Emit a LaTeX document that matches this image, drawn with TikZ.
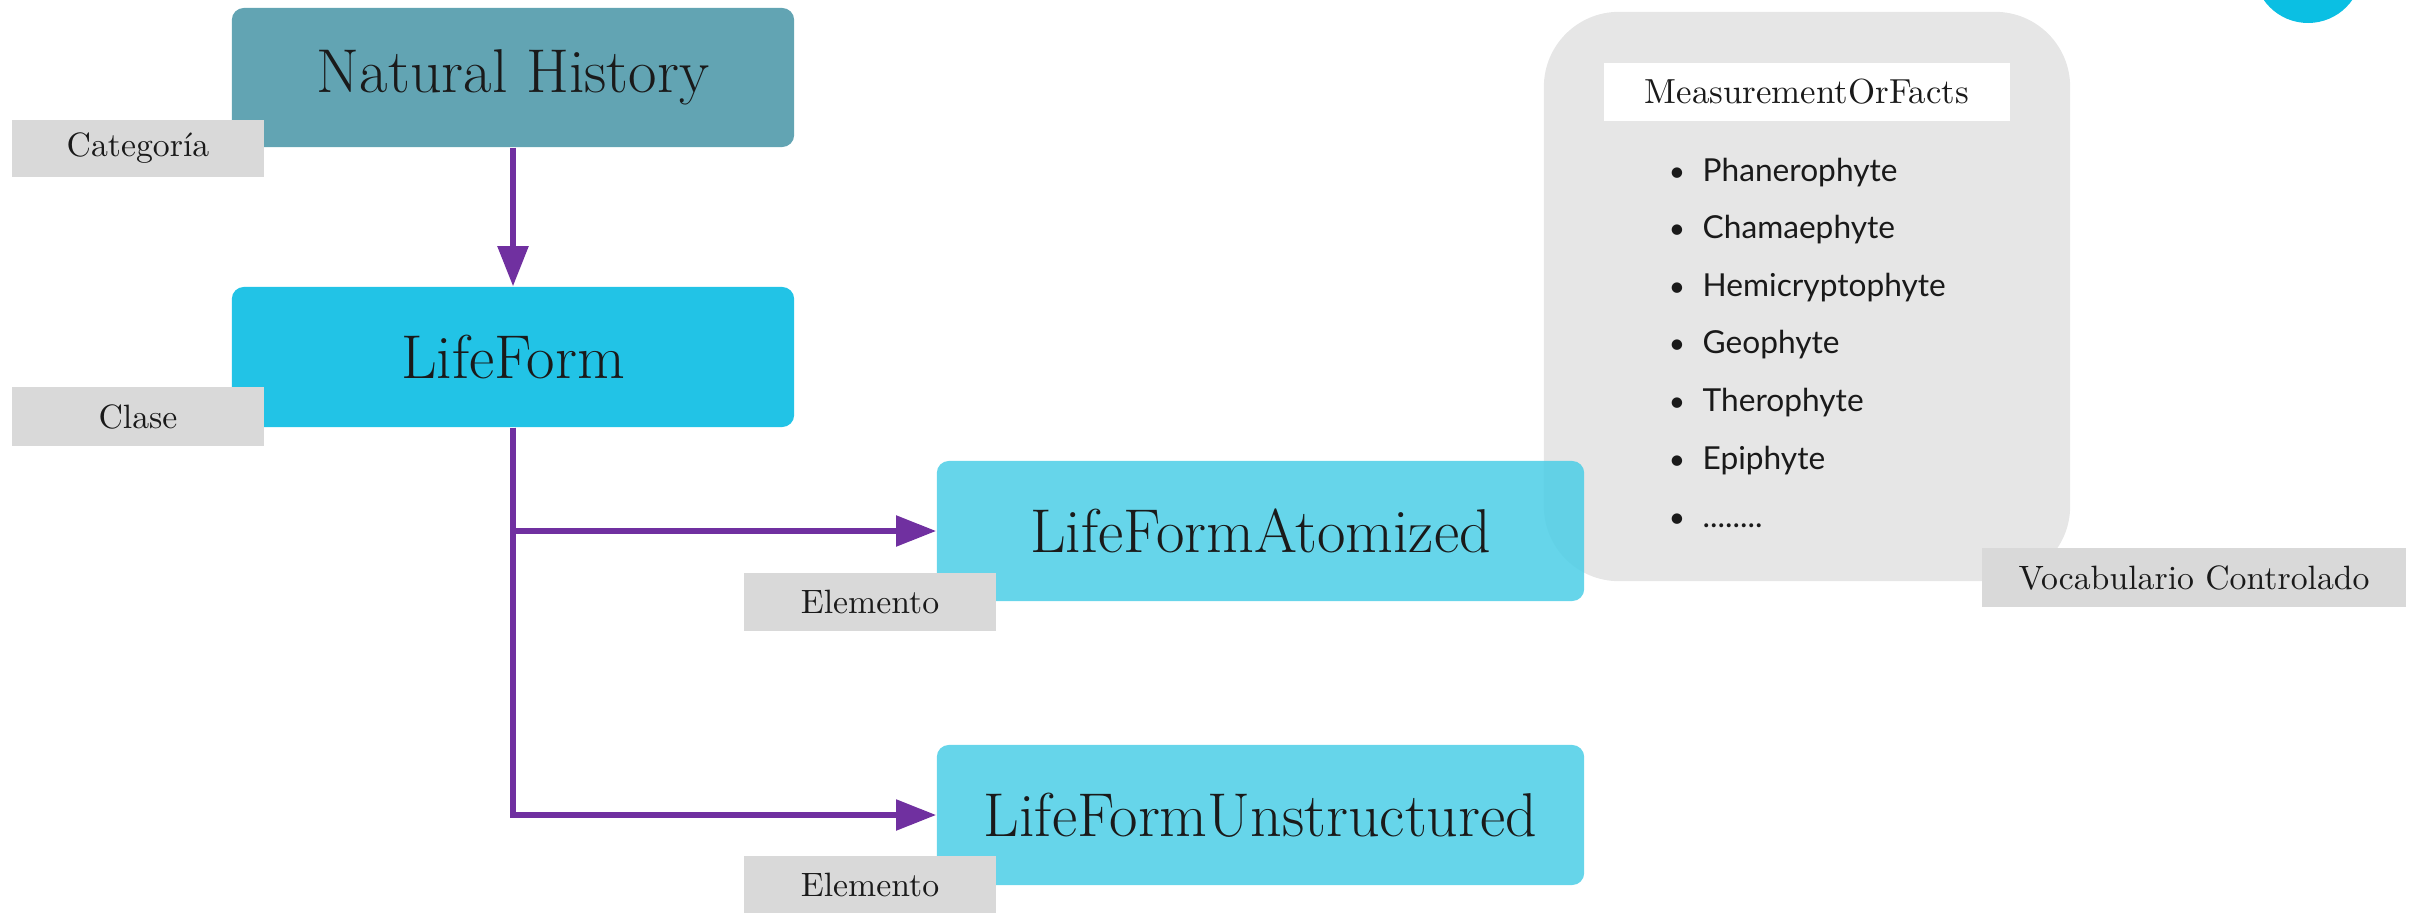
\documentclass[tikz,border=0pt]{standalone}
\usepackage{fontspec}
\newfontfamily\listfont{Lato}
\usetikzlibrary{arrows.meta}
\definecolor{nhteal}{HTML}{62A4B3}
\definecolor{lfcyan}{HTML}{22C3E6}
\definecolor{elcyan}{RGB}{75,206,230}
\definecolor{lblgray}{HTML}{D9D9D9}
\definecolor{panelgray}{HTML}{E6E6E6}
\definecolor{arrowpurple}{HTML}{7030A0}
\definecolor{dotblue}{HTML}{0BBFE3}
\definecolor{txt}{HTML}{1A1A1A}
\tikzset{
  bigbox/.style={rounded corners=0.12cm, inner sep=0pt, text=txt, font=\fontsize{17.6}{21}\selectfont},
  tagbox/.style={fill=lblgray, inner sep=0pt, text=txt, font=\fontsize{9.6}{11}\selectfont},
  conn/.style={draw=arrowpurple, line width=1.5pt, -{Triangle[length=0.4cm,width=0.3cm]}},
  item/.style={anchor=base west, inner sep=0pt, text=txt, font=\listfont\fontsize{9}{11}\selectfont},
  bul/.style={anchor=base, inner sep=0pt, text=txt, font=\listfont\fontsize{8}{10}\selectfont},
}
\begin{document}
\begin{tikzpicture}[x=0.01cm,y=-0.01cm]
\useasboundingbox (0,0) rectangle (2409,912);
\clip (0,0) rectangle (2409,912);
% blue dot top right
\fill[dotblue] (2308,-31) circle[radius=54];
% gray panel
\node[fill=panelgray, rounded corners=0.75cm, minimum width=5.26cm, minimum height=5.69cm, inner sep=0pt] (panel) at (1807,296.5) {};
\node[fill=white, minimum width=4.06cm, minimum height=0.58cm, inner sep=0pt, text=txt, font=\fontsize{9.9}{11}\selectfont] (mof) at (1807,92) {MeasurementOrFacts};
\foreach \t [count=\i from 0] in {Phanerophyte,Chamaephyte,Hemicryptophyte,Geophyte,Therophyte,Epiphyte}{
  \node[bul] (b\i) at (1677,{181+57.6*\i}) {•};
  \node[item] (it\i) at (1702,{181+57.6*\i}) {\t};
}
\node[bul] (b6) at (1677,527) {•};
\node[item] (it6) at (1702,527) {{.}{.}{.}{.}{.}{.}{.}{.}};
% main boxes
\node[bigbox, fill=nhteal, minimum width=5.62cm, minimum height=1.39cm] (nh) at (513,77.5) {Natural History};
\node[bigbox, fill=lfcyan, minimum width=5.62cm, minimum height=1.40cm] (lf) at (513,357) {LifeForm};
\node[bigbox, fill=elcyan, fill opacity=0.85, text opacity=1, minimum width=6.47cm, minimum height=1.40cm] (lfa) at (1260.5,531) {LifeFormAtomized};
\node[bigbox, fill=elcyan, fill opacity=0.85, text opacity=1, minimum width=6.47cm, minimum height=1.40cm] (lfu) at (1260.5,815) {LifeFormUnstructured};
% connectors
\draw[conn] (nh.south) -- (lf.north);
\draw[conn] (lf.south) |- (lfa.west);
\draw[conn] (lf.south) |- (lfu.west);
% tags
\node[tagbox, minimum width=2.52cm, minimum height=0.57cm] (tcat) at (138,148.5) {Categoría};
\node[tagbox, minimum width=2.52cm, minimum height=0.59cm] (tcla) at (138,416.5) {Clase};
\node[tagbox, minimum width=2.52cm, minimum height=0.58cm] (tel1) at (870,602) {Elemento};
\node[tagbox, minimum width=2.52cm, minimum height=0.58cm] (tel2) at (870,885) {Elemento};
\node[tagbox, minimum width=4.24cm, minimum height=0.59cm] (tvoc) at (2194,577.5) {Vocabulario Controlado};
\end{tikzpicture}
\end{document}
